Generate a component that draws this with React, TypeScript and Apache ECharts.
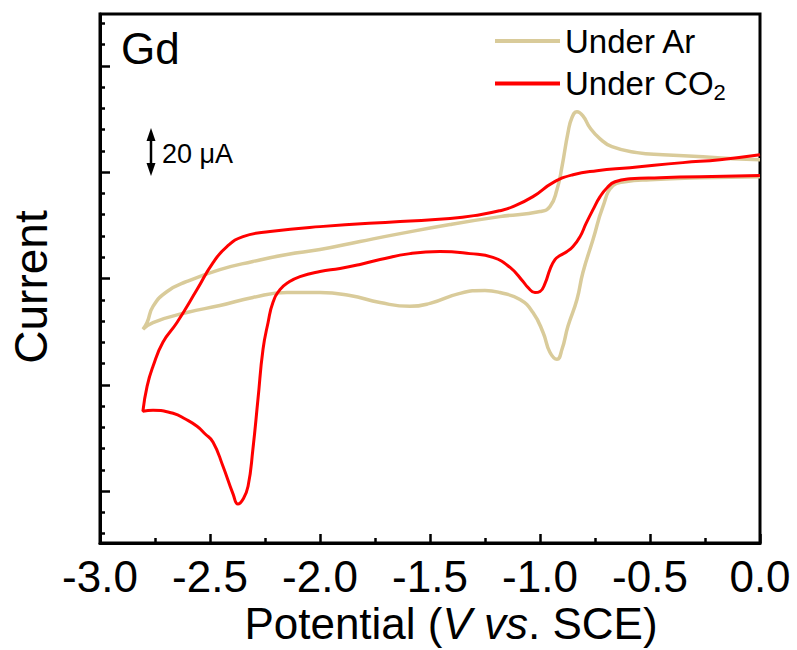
import React, { useEffect, useRef } from "react";
import * as echarts from "echarts";

// Under Ar: cathodic scan (0 -> -2.8 V) then return scan (-2.8 -> 0 V)
const arPotential = [
  0.0, -0.273, -0.5, -0.614, -0.668, -0.714, -0.759, -0.805, -0.832, -0.873,
  -0.9, -0.923, -0.955, -0.986, -1.032, -1.091, -1.182, -1.25, -1.364, -1.5,
  -1.591, -1.727, -1.864, -2.0, -2.15, -2.305, -2.455, -2.605, -2.759, -2.805,
  -2.786, -2.759, -2.695, -2.605, -2.455, -2.305, -2.15, -2.0, -1.818, -1.636,
  -1.409, -1.182, -1.0, -0.955, -0.923, -0.9, -0.873, -0.855, -0.832, -0.805,
  -0.773, -0.727, -0.673, -0.559, -0.441, -0.259, -0.123, 0.0,
];
const arCurrent = [
  47.9, 47.4, 46.5, 45.5, 43.7, 33.8, 18.3, 2.8, -9.9, -22.5,
  -33.3, -38.0, -34.7, -25.4, -16.0, -9.9, -6.6, -5.6, -7.0, -11.7,
  -13.1, -11.3, -8.0, -6.6, -6.6, -8.9, -12.7, -16.0, -20.7, -23.9,
  -20.7, -13.1, -6.1, -1.4, 4.2, 8.0, 11.3, 13.6, 17.4, 21.1,
  25.4, 29.1, 31.5, 33.8, 41.8, 52.6, 68.5, 75.6, 78.4, 76.5,
  70.9, 65.7, 62.0, 59.2, 58.2, 57.3, 56.3, 55.9,
];

// Under CO2
const co2Potential = [
  0.0, -0.273, -0.455, -0.591, -0.659, -0.695, -0.727, -0.759, -0.791, -0.818,
  -0.85, -0.877, -0.909, -0.932, -0.955, -0.977, -1.0, -1.023, -1.055, -1.077,
  -1.136, -1.214, -1.318, -1.455, -1.591, -1.727, -1.818, -1.909, -2.0, -2.091,
  -2.145, -2.182, -2.214, -2.236, -2.259, -2.282, -2.305, -2.327, -2.35, -2.373,
  -2.395, -2.441, -2.486, -2.523, -2.559, -2.61, -2.668, -2.759, -2.805,
  -2.786, -2.759, -2.714, -2.65, -2.559, -2.486, -2.423, -2.35, -2.227, -2.0,
  -1.636, -1.409, -1.273, -1.182, -1.123, -1.032, -0.941, -0.85, -0.741, -0.591,
  -0.35, -0.182, 0.0,
];
const co2Current = [
  48.4, 47.9, 47.4, 46.9, 45.5, 42.7, 38.5, 32.4, 25.8, 19.7,
  15.0, 12.7, 10.8, 8.9, 4.2, -2.3, -6.1, -6.6, -4.2, -1.4,
  5.2, 9.9, 11.7, 12.7, 11.7, 8.9, 6.6, 4.7, 3.3, 0.9,
  -1.9, -5.2, -11.3, -20.7, -33.3, -56.8, -80.3, -97.7, -103.8, -106.1,
  -101.4, -88.3, -77.0, -73.0, -69.5, -66.2, -63.4, -62.0, -62.4,
  -50.7, -41.3, -30.0, -20.7, -5.2, 7.5, 15.0, 19.7, 22.1, 24.4,
  26.8, 28.2, 30.0, 31.9, 33.8, 38.5, 45.1, 48.8, 50.7, 52.1,
  54.5, 55.9, 58.2,
];

const seriesNames = ["Under Ar", "Under CO2"];
const xMin = -3.0;
const xMax = 0.0;
const xInterval = 0.5;
const yMin = -124.4;
const yMax = 124.4;
const yMajorTicks = [-100, -50, 0, 50, 100];
const yMinorTicks = [-120, -110, -90, -80, -70, -60, -40, -30, -20, -10, 10, 20, 30, 40, 60, 70, 80, 90, 110, 120];

const FONT = "'Liberation Sans', Arial, Helvetica, sans-serif";

const pairs = (xs: number[], ys: number[]) => xs.map((x, i) => [x, ys[i]]);

export default function App() {
  const ref = useRef<HTMLDivElement>(null);
  useEffect(() => {
    if (!ref.current) return;
    const chart = echarts.init(ref.current, undefined, { renderer: "svg" });
    const tickStyle = { color: "#000", width: 2.5 };
    chart.setOption({
      animation: false,
      backgroundColor: "#fff",
      grid: {
        left: 100,
        right: 37,
        top: 14,
        bottom: 107,
        show: true,
        borderColor: "#000",
        borderWidth: 3,
        containLabel: false,
        outerBoundsMode: "none",
      },
      legend: {
        data: seriesNames,
        orient: "vertical",
        left: 495,
        top: 21,
        padding: 0,
        itemWidth: 65,
        itemHeight: 4,
        itemGap: 2.5,
        icon: "rect",
        selectedMode: false,
        formatter: (n: string) => (n === "Under CO2" ? "Under CO{sub|2}" : n),
        textStyle: {
          fontSize: 33,
          fontFamily: FONT,
          color: "#000",
          lineHeight: 40,
          rich: {
            sub: { fontSize: 22, fontFamily: FONT, color: "#000", lineHeight: 40, verticalAlign: "bottom" },
          },
        },
      },
      xAxis: {
        type: "value",
        min: xMin,
        max: xMax,
        interval: xInterval,
        axisLine: { show: true, onZero: false, lineStyle: { color: "#000", width: 3 } },
        axisTick: { show: true, inside: true, length: 9, lineStyle: tickStyle },
        minorTick: { show: true, splitNumber: 2, length: 5, lineStyle: tickStyle },
        axisLabel: {
          fontSize: 44,
          fontFamily: FONT,
          color: "#000",
          margin: 11,
          formatter: (v: number) => v.toFixed(1),
        },
        splitLine: { show: false },
      },
      yAxis: [
        {
          type: "value",
          min: yMin,
          max: yMax,
          position: "left",
          axisLine: { show: true, onZero: false, lineStyle: { color: "#000", width: 3 } },
          axisTick: { show: true, inside: true, length: 10, customValues: yMajorTicks, lineStyle: tickStyle },
          axisLabel: { show: false },
          splitLine: { show: false },
        },
        {
          type: "value",
          min: yMin,
          max: yMax,
          position: "left",
          axisLine: { show: false, onZero: false },
          axisTick: { show: true, inside: true, length: 5, customValues: yMinorTicks, lineStyle: tickStyle },
          axisLabel: { show: false },
          splitLine: { show: false },
        },
      ],
      series: [
        {
          name: seriesNames[0],
          type: "line",
          data: pairs(arPotential, arCurrent),
          showSymbol: false,
          smooth: 0.5,
          lineStyle: { color: "#D9CB9A", width: 3.5 },
          itemStyle: { color: "#D9CB9A" },
          z: 2,
        },
        {
          name: seriesNames[1],
          type: "line",
          data: pairs(co2Potential, co2Current),
          showSymbol: false,
          smooth: 0.5,
          lineStyle: { color: "#FF0000", width: 3 },
          itemStyle: { color: "#FF0000" },
          z: 3,
        },
      ],
      graphic: [
        {
          type: "text",
          x: 121,
          y: 48,
          style: { text: "Gd", fontSize: 44, fontFamily: FONT, fill: "#000", align: "left", verticalAlign: "middle" },
        },
        {
          type: "text",
          x: 31,
          y: 287,
          rotation: Math.PI / 2,
          style: { text: "Current", fontSize: 46, fontFamily: FONT, fill: "#000", align: "center", verticalAlign: "middle" },
        },
        {
          type: "text",
          x: 451,
          y: 623,
          style: {
            text: "Potential ({i|V vs}. SCE)",
            fontSize: 44,
            fontFamily: FONT,
            fill: "#000",
            align: "center",
            verticalAlign: "middle",
            rich: { i: { fontSize: 44, fontFamily: FONT, fontStyle: "italic", fill: "#000" } },
          },
        },
        {
          type: "line",
          shape: { x1: 151, y1: 138, x2: 151, y2: 166 },
          style: { stroke: "#000", lineWidth: 2.5 },
        },
        {
          type: "polygon",
          shape: { points: [[151, 128], [146.5, 141], [155.5, 141]] },
          style: { fill: "#000" },
        },
        {
          type: "polygon",
          shape: { points: [[151, 176], [146.5, 163], [155.5, 163]] },
          style: { fill: "#000" },
        },
        {
          type: "text",
          x: 162,
          y: 154,
          style: { text: "20 μA", fontSize: 27, fontFamily: FONT, fill: "#000", align: "left", verticalAlign: "middle" },
        },
      ],
    });
    return () => chart.dispose();
  }, []);
  return <div ref={ref} style={{ position: "absolute", left: 0, top: 0, width: 797, height: 650 }} />;
}
